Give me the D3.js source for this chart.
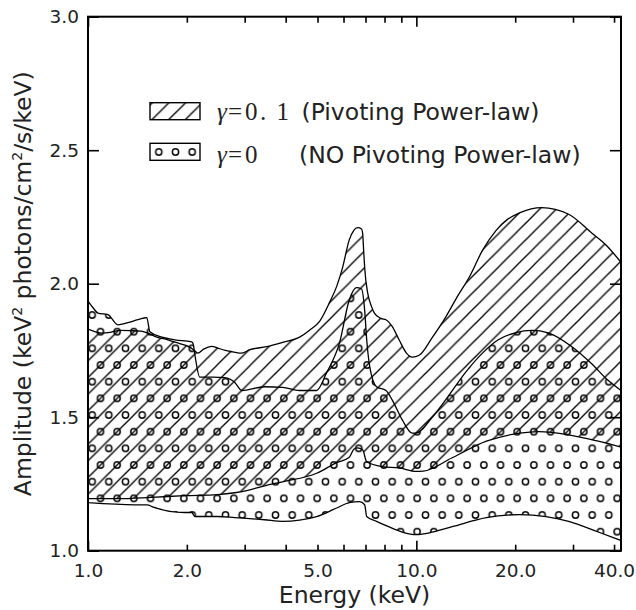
<!DOCTYPE html>
<html><head><meta charset="utf-8">
<script src="https://cdn.jsdelivr.net/npm/d3@7"></script>
<style>body{margin:0;background:#fff} svg{display:block}</style>
</head><body><svg id="c" width="636" height="610"></svg>
<script>
// ---------- data (energy keV, amplitude) ----------
const hatchUpper = [[1.00,1.830],[1.04,1.822],[1.10,1.815],[1.17,1.818],[1.25,1.825],[1.35,1.824],[1.45,1.822],[1.52,1.815],[1.62,1.800],[1.75,1.790],[1.90,1.776],[2.02,1.765],[2.10,1.752],[2.16,1.740],[2.25,1.755],[2.38,1.765],[2.50,1.758],[2.62,1.750],[2.76,1.745],[2.94,1.740],[3.11,1.753],[3.50,1.764],[3.91,1.780],[4.41,1.800],[4.73,1.826],[5.08,1.860],[5.44,1.930],[5.72,1.990],[5.96,2.060],[6.25,2.165],[6.45,2.200],[6.62,2.210],[6.81,2.205],[6.86,2.190],[6.91,2.125],[6.96,2.060],[7.11,1.965],[7.30,1.915],[7.45,1.890],[7.80,1.870],[8.08,1.865],[8.44,1.840],[8.86,1.790],[9.33,1.740],[9.72,1.725],[10.2,1.732],[11.2,1.800],[12.3,1.876],[13.3,1.950],[14.5,2.025],[15.9,2.125],[17.5,2.200],[18.9,2.240],[20.6,2.265],[24.1,2.285],[29.1,2.260],[34.2,2.190],[37.8,2.145],[42.0,2.080]];
const hatchLower = [[1.00,1.195],[1.23,1.195],[1.565,1.200],[1.97,1.206],[2.48,1.210],[2.80,1.217],[3.11,1.228],[3.45,1.243],[3.91,1.258],[4.97,1.290],[5.72,1.330],[6.25,1.350],[6.45,1.380],[6.62,1.385],[6.86,1.378],[7.06,1.333],[7.87,1.315],[8.86,1.310],[10.0,1.297],[10.5,1.298],[12.85,1.348],[16.34,1.410],[20.6,1.440],[23.6,1.446],[29.1,1.434],[35.8,1.410],[42.0,1.388]];
const dotUpper = [[1.00,1.935],[1.036,1.910],[1.072,1.890],[1.15,1.884],[1.233,1.846],[1.323,1.854],[1.419,1.865],[1.51,1.873],[1.543,1.820],[1.68,1.800],[1.84,1.790],[2.07,1.782],[2.09,1.775],[2.12,1.727],[2.19,1.650],[2.40,1.650],[2.61,1.648],[2.80,1.630],[2.94,1.600],[3.45,1.614],[3.91,1.612],[4.41,1.600],[4.97,1.600],[5.33,1.667],[5.84,1.780],[6.25,1.940],[6.57,1.985],[6.81,1.980],[6.96,1.900],[7.06,1.790],[7.21,1.690],[7.56,1.614],[8.08,1.600],[8.44,1.565],[9.06,1.490],[9.72,1.440],[9.94,1.440],[11.18,1.500],[12.48,1.577],[14.1,1.667],[15.9,1.740],[17.76,1.790],[20.0,1.816],[22.5,1.825],[25.2,1.816],[29.7,1.765],[34.2,1.700],[38.2,1.640],[42.0,1.600]];
const dotLower = [[1.00,1.180],[1.39,1.172],[1.52,1.172],[1.565,1.165],[1.97,1.143],[2.07,1.143],[2.115,1.128],[2.48,1.128],[2.80,1.124],[3.45,1.116],[3.91,1.110],[4.97,1.128],[5.72,1.160],[6.25,1.180],[6.71,1.184],[6.96,1.172],[7.06,1.128],[7.56,1.110],[8.23,1.090],[9.06,1.070],[10.0,1.060],[10.95,1.067],[12.85,1.090],[16.34,1.124],[20.6,1.135],[24.8,1.128],[29.1,1.110],[35.8,1.070],[42.0,1.038]];

const xDomain = [1, 42];
const yDomain = [1, 3];
const xLabelTicks = [1, 2, 5, 10, 20, 40];
const xLabelText = ["1.0", "2.0", "5.0", "10.0", "20.0", "40.0"];
const xMajorTicks = [1, 10];
const xMinorTicks = [2, 3, 4, 5, 6, 7, 8, 9, 20, 30, 40];
const yTicks = [1.0, 1.5, 2.0, 2.5, 3.0];
const yTickText = ["1.0", "1.5", "2.0", "2.5", "3.0"];

// ---------- layout ----------
const L = 88, R = 621, T = 16.7, B = 550.7;
const svg = d3.select('#c');
const x = d3.scaleLog().domain(xDomain).range([L, R]);
const y = d3.scaleLinear().domain(yDomain).range([B, T]);

const defs = svg.append('defs');
const P = 100/6;
function makePatterns(id, hx, hy, dx, dy){
  const h = defs.append('pattern').attr('id','hatch'+id).attr('patternUnits','userSpaceOnUse')
    .attr('width',P).attr('height',P).attr('patternTransform',`translate(${hx},${hy})`);
  [[-1,1,1,-1],[-1,P+1,P+1,-1],[P-1,P+1,P+1,P-1]].forEach(s=>{
    h.append('line').attr('x1',s[0]).attr('y1',s[1]).attr('x2',s[2]).attr('y2',s[3])
     .attr('stroke','#000').attr('stroke-width',1.3);
  });
  const d = defs.append('pattern').attr('id','dots'+id).attr('patternUnits','userSpaceOnUse')
    .attr('width',P).attr('height',2*P).attr('patternTransform',`translate(${dx},${dy})`);
  [[0,0],[P,0],[0,2*P],[P,2*P],[P/2,P]].forEach(c=>{
    d.append('circle').attr('cx',c[0]).attr('cy',c[1]).attr('r',3.1)
     .attr('fill','none').attr('stroke','#000').attr('stroke-width',1.45);
  });
}
makePatterns('M', 0.5, 31.7, 0.5, 31.7);
makePatterns('L', 0.5, 4.5, 0.5, 2.0);

defs.append('clipPath').attr('id','clip').append('rect')
  .attr('x',L).attr('y',T).attr('width',R-L).attr('height',B-T);

const line = d3.line().x(d=>x(d[0])).y(d=>y(d[1])).curve(d3.curveMonotoneX);
function bandPath(up, lo){
  const a = line(up);
  const b = line(lo.slice().reverse());
  return a + 'L' + b.slice(1) + 'Z';
}
const plot = svg.append('g').attr('clip-path','url(#clip)');
plot.append('path').attr('d', bandPath(dotUpper, dotLower)).attr('fill','url(#dotsM)')
  .attr('stroke','#000').attr('stroke-width',1.3);
plot.append('path').attr('d', bandPath(hatchUpper, hatchLower)).attr('fill','url(#hatchM)')
  .attr('stroke','#000').attr('stroke-width',1.3);

// ---------- axes ----------
const tickFont = '18.5px "DejaVu Sans"';
svg.append('g').attr('transform',`translate(0,${B})`)
  .call(d3.axisBottom(x).tickValues(xMinorTicks).tickSize(-6).tickFormat(''));
svg.append('g').attr('transform',`translate(0,${B})`)
  .call(d3.axisBottom(x).tickValues(xMajorTicks).tickSize(-10).tickFormat(''));
svg.append('g').attr('transform',`translate(0,${B})`)
  .call(d3.axisBottom(x).tickValues(xLabelTicks).tickSize(0).tickPadding(13)
  .tickFormat((d,i)=>xLabelText[i]));
svg.append('g').attr('transform',`translate(0,${T})`)
  .call(d3.axisTop(x).tickValues(xMinorTicks).tickSize(-6).tickFormat(''));
svg.append('g').attr('transform',`translate(0,${T})`)
  .call(d3.axisTop(x).tickValues(xMajorTicks).tickSize(-10).tickFormat(''));
svg.append('g').attr('transform',`translate(${L},0)`)
  .call(d3.axisLeft(y).tickValues(yTicks).tickSize(-11).tickPadding(9)
  .tickFormat((d,i)=>yTickText[i]));
svg.append('g').attr('transform',`translate(${R},0)`)
  .call(d3.axisRight(y).tickValues(yTicks).tickSize(-11).tickFormat(''));
svg.selectAll('.domain').remove();
svg.selectAll('.tick line').attr('stroke','#000').attr('stroke-width',1.6);
svg.selectAll('.tick text').style('font', tickFont).attr('fill','#222');
svg.append('rect').attr('x',L).attr('y',T).attr('width',R-L).attr('height',B-T)
  .attr('fill','none').attr('stroke','#000').attr('stroke-width',2);

// ---------- labels ----------
const lab = '23.5px "DejaVu Sans"';
svg.append('text').attr('x',(L+R)/2).attr('y',603).attr('text-anchor','middle')
  .style('font',lab).attr('fill','#222').text('Energy (keV)');
const yl = svg.append('text').attr('transform',`translate(31,${(T+B)/2}) rotate(-90)`)
  .attr('text-anchor','middle').style('font',lab).attr('fill','#222');
yl.append('tspan').text('Amplitude (keV');
yl.append('tspan').attr('dy',-9).style('font-size','14px').text('2');
yl.append('tspan').attr('dy',9).text(' photons/cm');
yl.append('tspan').attr('dy',-9).style('font-size','14px').text('2');
yl.append('tspan').attr('dy',9).text('/s/keV)');

// ---------- legend ----------
const legend = [
  {fill:'url(#hatchL)', y:102.7, base:120, math:['0','.','1'], text:'(Pivoting Power-law)', tx:301.5},
  {fill:'url(#dotsL)', y:143.3, base:163.3, math:['0'], text:'(NO Pivoting Power-law)', tx:299}
];
legend.forEach(e=>{
  svg.append('rect').attr('x',150).attr('y',e.y).attr('width',50).attr('height',17)
    .attr('fill',e.fill).attr('stroke','#000').attr('stroke-width',1.4);
  const m = svg.append('text').attr('y',e.base).style('font','25px "Liberation Serif"').attr('fill','#222');
  m.append('tspan').attr('x',217).style('font-style','italic').text('γ');
  m.append('tspan').attr('x',228).text('=');
  const xs = [245, 260, 276.5];
  e.math.forEach((c,i)=> m.append('tspan').attr('x',xs[i]).text(c));
  svg.append('text').attr('x',e.tx).attr('y',e.base).style('font',lab).attr('fill','#222').text(e.text);
});
</script></body></html>
